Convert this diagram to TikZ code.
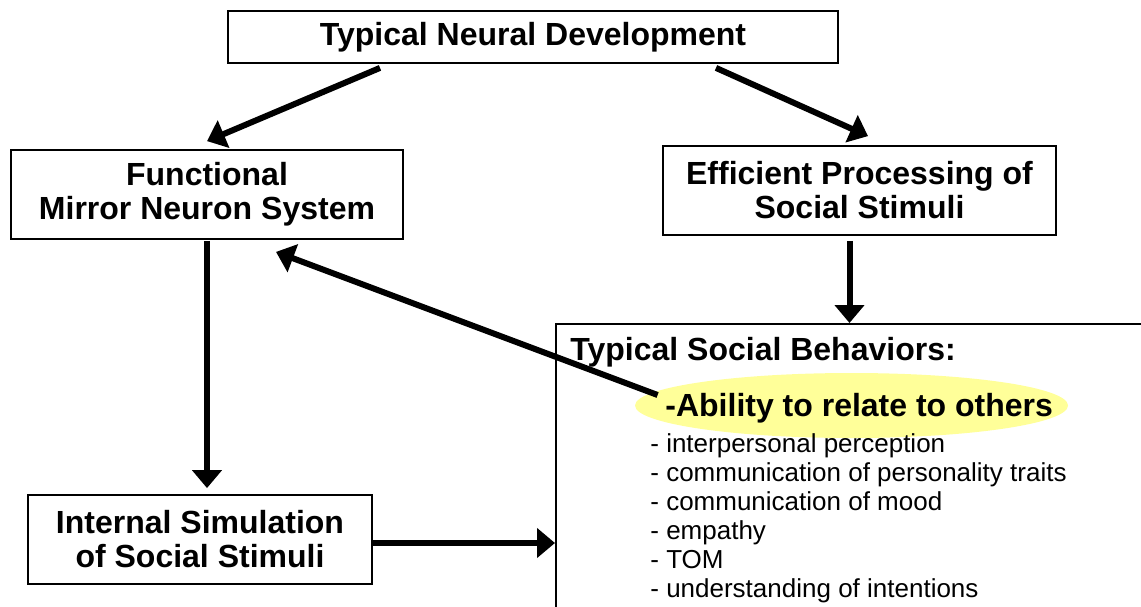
\documentclass[tikz,border=0pt]{standalone}
\usepackage{fontspec}
\setmainfont{Liberation Sans}
\usetikzlibrary{shapes.geometric,arrows.meta}

\definecolor{hilite}{RGB}{255,255,153}
\tikzset{
  box/.style={draw,line width=0.9pt,align=center,inner sep=0pt,
    font=\fontsize{16}{17}\selectfont\bfseries},
  arr/.style={line width=3pt,-{Triangle[length=9pt,width=14.5pt]}},
  item/.style={anchor=base west,inner sep=0pt,font=\fontsize{13}{14.5}\selectfont}
}

\begin{document}
\begin{tikzpicture}[x=0.5pt,y=-0.5pt]
\clip (0,0) rectangle (1141,606);
\node[box,minimum width=305pt,minimum height=26pt] (TND) at (533,37) {Typical Neural Development};
\node[box,minimum width=196pt,minimum height=44.5pt] (MNS) at (207,194.5) {Functional\\Mirror Neuron System};
\node[box,minimum width=196.5pt,minimum height=44.5pt] (EPSS) at (859.5,190.5) {Efficient Processing of\\Social Stimuli};
\node[box,minimum width=172pt,minimum height=44.5pt] (ISSS) at (200,539.5) {Internal Simulation\\of Social Stimuli};
\node[draw,line width=0.9pt,anchor=north west,minimum width=320pt,minimum height=160pt] (TSB) at (555,323) {};
\node[ellipse,fill=hilite,inner sep=0pt,minimum width=216.5pt,minimum height=32.5pt] (Ability) at (851.5,405.5) {};
\node[item,font=\fontsize{16}{17}\selectfont\bfseries] (TSBtitle) at (570,360) {Typical Social Behaviors:};
\node[item,font=\fontsize{16}{17}\selectfont\bfseries] (AbilityTxt) at (665,416) {-Ability to relate to others};
\foreach \txt [count=\i from 0] in {interpersonal perception,communication of personality traits,
  communication of mood,empathy,TOM,understanding of intentions}
  \node[item] (item\i) at (650,452+29*\i) {- \txt};
% arrows
\draw[arr] ([xshift=-76.5pt,yshift=-2pt]TND.south) -- ([yshift=4pt]MNS.north);
\draw[arr] ([xshift=91.5pt,yshift=-2pt]TND.south) -- ([xshift=4.25pt,yshift=4.5pt]EPSS.north);
\draw[arr] ([xshift=-5pt,yshift=-2.5pt]EPSS.south) -- ([xshift=-5pt]EPSS.south |- TSB.north);
\draw[arr] ([yshift=-0.5pt]MNS.south) -- ([yshift=3pt]MNS.south |- ISSS.north);
\draw[arr] ([yshift=-1.75pt]ISSS.east) -- ([yshift=-1.75pt]ISSS.east -| TSB.west);
\draw[arr] ([xshift=11.5pt,yshift=5.25pt]Ability.west) -- ([xshift=34.5pt,yshift=-6pt]MNS.south);
\end{tikzpicture}
\end{document}
